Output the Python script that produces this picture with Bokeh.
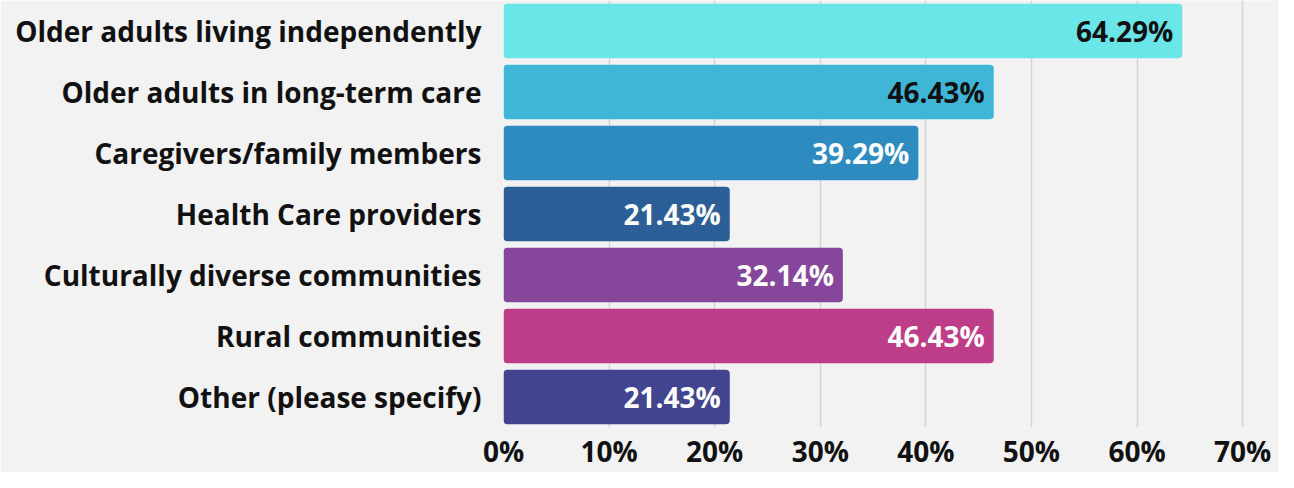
from bokeh.plotting import figure
from bokeh.models import FactorRange, Range1d, ColumnDataSource, FixedTicker, CustomJSTickFormatter
from bokeh.core.properties import value
from bokeh.embed import file_html
from bokeh.resources import INLINE

categories = [
    "Older adults living independently",
    "Older adults in long-term care",
    "Caregivers/family members",
    "Health Care providers",
    "Culturally diverse communities",
    "Rural communities",
    "Other (please specify)",
]
percentages = [64.29, 46.43, 39.29, 21.43, 32.14, 46.43, 21.43]
bar_colors = ["#6ae6e8", "#40b6d6", "#2e8bbf", "#2c5e97", "#86469b", "#bd3d89", "#424490"]
label_colors = ["#111111", "#111111", "#ffffff", "#ffffff", "#ffffff", "#ffffff", "#ffffff"]
x_ticks = [0, 10, 20, 30, 40, 50, 60, 70]

FONT = "Open Sans"
BG = "#f2f2f2"

source = ColumnDataSource(dict(
    cat=categories,
    val=percentages,
    color=bar_colors,
    tcolor=label_colors,
    txt=[f"{v:.2f}%" for v in percentages],
))

p = figure(
    y_range=FactorRange(factors=list(reversed(categories)), range_padding=0),
    x_range=Range1d(0, 73.4),
    width=1278, height=472,
    min_border_left=503, min_border_right=0, min_border_top=0, min_border_bottom=0,
    toolbar_location=None, output_backend="svg",
    background_fill_color=BG, border_fill_color=BG,
)
p.outline_line_color = None

p.hbar(y="cat", right="val", left=0, height=0.89, source=source,
       fill_color="color", line_color=None, border_radius=4)

p.text(x="val", y="cat", text="txt", source=source, x_offset=-9,
       text_align="right", text_baseline="middle", text_color="tcolor",
       text_font=value(FONT), text_font_style="bold", text_font_size="28px")

p.ygrid.grid_line_color = None
p.xgrid.grid_line_color = "#d4d4d4"
p.xgrid.grid_line_width = 1.5
p.xgrid.ticker = FixedTicker(ticks=x_ticks)
p.xgrid.level = "underlay"

p.xaxis.ticker = FixedTicker(ticks=x_ticks)
p.xaxis.formatter = CustomJSTickFormatter(code="return tick + '%';")
p.xaxis.axis_line_color = None
p.xaxis.major_tick_line_color = None
p.xaxis.minor_tick_line_color = None
p.xaxis.major_tick_out = 0
p.xaxis.major_label_standoff = 4
p.xaxis.major_label_text_font = FONT
p.xaxis.major_label_text_font_style = "bold"
p.xaxis.major_label_text_font_size = "28px"
p.xaxis.major_label_text_color = "#111111"

p.yaxis.axis_line_color = None
p.yaxis.major_tick_line_color = None
p.yaxis.minor_tick_line_color = None
p.yaxis.major_tick_out = 0
p.yaxis.major_label_standoff = 22
p.yaxis.major_label_text_font = FONT
p.yaxis.major_label_text_font_style = "bold"
p.yaxis.major_label_text_font_size = "28px"
p.yaxis.major_label_text_color = "#111111"

open("out.html", "w").write(file_html(p, INLINE))
